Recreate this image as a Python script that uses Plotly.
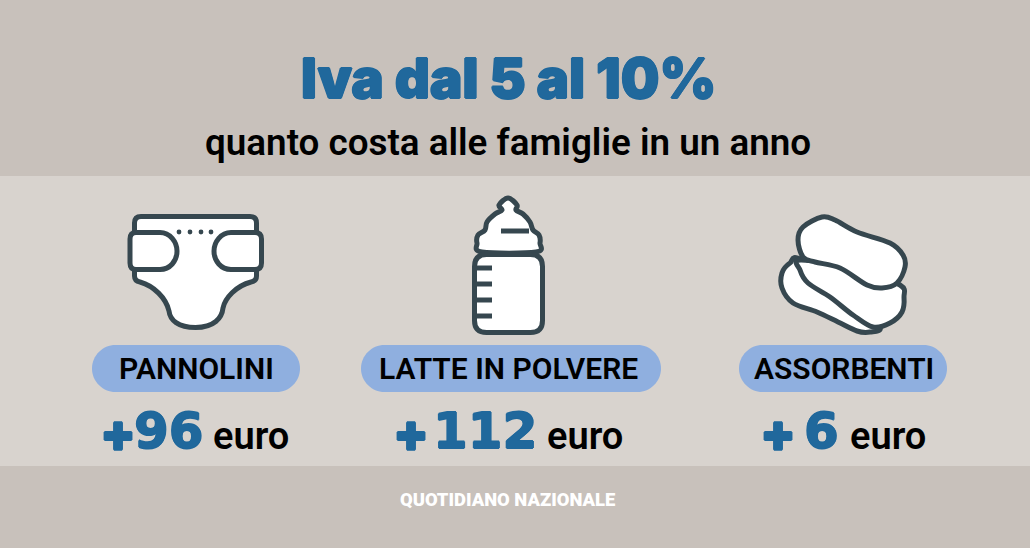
"""
Iva dal 5 al 10% - infographic rebuilt with plotly shapes and annotations.
"""
import plotly.graph_objects as go

WIDTH, HEIGHT = 1030, 548

title = "Iva dal 5 al 10%"
subtitle = "quanto costa alle famiglie in un anno"
categories = ["PANNOLINI", "LATTE IN POLVERE", "ASSORBENTI"]
increases = [96, 112, 6]
unit = "euro"
footer = "QUOTIDIANO NAZIONALE"

BAND = "#c8c1bb"
PANEL = "#d8d3ce"
BLUE = "#20689c"
PILL = "#8fafdf"
INK = "#36474f"

# text shadow just fattens the heavy blue type a bit
FATTEN = f"0.8px 0 0 {BLUE}, -0.8px 0 0 {BLUE}, 0 0.6px 0 {BLUE}, 0 -0.6px 0 {BLUE}"


def smooth(points):
    # closed catmull-rom through the outline points of an icon
    n = len(points)
    path = f"M {points[0][0]},{points[0][1]}"
    for i in range(n):
        p0, p1, p2, p3 = [points[(i + k) % n] for k in (-1, 0, 1, 2)]
        c1 = (p1[0] + (p2[0] - p0[0]) / 6, p1[1] + (p2[1] - p0[1]) / 6)
        c2 = (p2[0] - (p3[0] - p1[0]) / 6, p2[1] - (p3[1] - p1[1]) / 6)
        path += f" C {c1[0]:.1f},{c1[1]:.1f} {c2[0]:.1f},{c2[1]:.1f} {p2[0]},{p2[1]}"
    return path + " Z"


def rect(x0, y0, x1, y1, color):
    return dict(type="rect", x0=x0, y0=y0, x1=x1, y1=y1, fillcolor=color, line_width=0, layer="below")


def icon(path, fill="white", width=5):
    return dict(type="path", path=path, fillcolor=fill, line=dict(color=INK, width=width), layer="above")


def pill(x0, x1, y0=345, y1=392):
    # plotly shape paths do not scale arcs well, so the ends are cubic
    r = (y1 - y0) / 2
    k = r * 0.55
    ym = (y0 + y1) / 2
    return dict(
        type="path",
        path=(f"M {x0 + r},{y0} L {x1 - r},{y0} "
              f"C {x1 - r + k},{y0} {x1},{ym - k} {x1},{ym} C {x1},{ym + k} {x1 - r + k},{y1} {x1 - r},{y1} "
              f"L {x0 + r},{y1} "
              f"C {x0 + r - k},{y1} {x0},{ym + k} {x0},{ym} C {x0},{ym - k} {x0 + r - k},{y0} {x0 + r},{y0} Z"),
        fillcolor=PILL, line_width=0, layer="below",
    )


def text(x, y, s, size, color="black", family="Roboto", weight=600, anchor="center", shadow=None):
    font = dict(family=family, size=size, color=color, weight=weight)
    if shadow:
        font["shadow"] = shadow
    return dict(x=x, y=y, text=s, showarrow=False, xanchor=anchor, yanchor="middle", font=font)


shapes = [
    rect(0, 0, WIDTH, 176, BAND),
    rect(0, 176, WIDTH, 466, PANEL),
    rect(0, 466, WIDTH, HEIGHT, BAND),
    pill(92, 300),
    pill(361, 661),
    pill(739, 947),
]

# diaper
shapes.append(icon(
    "M 134.5,225 L 134.5,223 Q 134.5,216.5 141,216.5 L 250,216.5 Q 256.5,216.5 256.5,223 L 256.5,276 "
    "Q 256.5,281 251,282 C 236,286 225,298 223,308 C 222,318 214,327.5 195.5,327.5 "
    "C 178,327.5 170,320 169,311 C 166,298 154,286 140,282 Q 134.5,281 134.5,276 Z"))
shapes.append(icon("M 136,232.5 L 160,232.5 C 170,232.5 177,242 177,251 C 177,261 170,269.5 160,269.5 "
                   "L 136,269.5 Q 130,269.5 130,263 L 130,239 Q 130,232.5 136,232.5 Z"))
shapes.append(icon("M 255,232.5 L 231,232.5 C 221,232.5 214,242 214,251 C 214,261 221,269.5 231,269.5 "
                   "L 255,269.5 Q 261.5,269.5 261.5,263 L 261.5,239 Q 261.5,232.5 255,232.5 Z"))
for dot_x in (179, 190, 201, 211):
    shapes.append(dict(type="circle", x0=dot_x - 2.4, x1=dot_x + 2.4, y0=229.6, y1=234.4,
                       fillcolor=INK, line_width=0, layer="above"))

# bottle
shapes.append(icon(smooth([(482, 252), (477, 243), (478, 235), (485, 230), (487, 222), (495, 214),
                           (502, 210), (499, 205), (508, 198), (517, 205), (516, 210), (523, 214),
                           (530, 222), (533, 230), (539, 235), (540, 243), (536, 252)])))
shapes.append(icon("M 486.5,254.5 L 530.5,254.5 Q 542.5,254.5 542.5,266.5 L 542.5,320.5 Q 542.5,332.5 530.5,332.5 "
                   "L 486.5,332.5 Q 474.5,332.5 474.5,320.5 L 474.5,266.5 Q 474.5,254.5 486.5,254.5 Z"))
shapes.append(dict(type="line", x0=501, x1=529, y0=231, y1=231, line=dict(color=INK, width=5), layer="above"))
for tick_y in (268, 284, 300, 316):
    shapes.append(dict(type="line", x0=474, x1=492, y0=tick_y, y1=tick_y,
                       line=dict(color=INK, width=5), layer="above"))

# pads, back to front
shapes.append(icon(smooth([(802, 260), (790, 263), (782, 273), (782, 288), (793, 303), (817, 312),
                           (838, 322), (857, 331), (870, 332), (880, 327), (860, 300)])))
shapes.append(icon(smooth([(801, 260), (800, 270), (808, 283), (830, 297), (853, 315), (873, 327),
                           (890, 323), (902, 312), (904, 297), (900, 285), (860, 270)])))
shapes.append(icon(smooth([(798, 240), (803, 227), (822, 217), (835, 220), (857, 232), (890, 243),
                           (903, 255), (905, 267), (897, 283), (882, 288), (867, 285), (840, 268),
                           (815, 262), (803, 257)])))

annotations = [
    text(508, 78, title, 54.5, BLUE, "Inter", 900, shadow=FATTEN),
    text(508, 142, subtitle, 36.8),
    text(508, 499, footer, 18.4, "white", "Roboto", 900),
]
pill_centers = [196, 508, 843.5]
plus_x = [98, 391, 758]
value_x = [206, 539, 841]
euro_x = [211, 545, 848]
for name, cx, inc, px_, vx, ex in zip(categories, pill_centers, increases, plus_x, value_x, euro_x):
    annotations.append(text(cx, 368, name, 30))
    annotations.append(text(px_, 432, "+", 52, BLUE, "Inter", 900, "left", FATTEN))
    annotations.append(text(vx, 431, str(inc), 50, BLUE, "DejaVu Sans", 700, "right", FATTEN))
    annotations.append(text(ex, 436, unit, 38, anchor="left"))

fig = go.Figure()
fig.update_layout(
    width=WIDTH, height=HEIGHT,
    margin=dict(l=0, r=0, t=0, b=0),
    paper_bgcolor=PANEL, plot_bgcolor=PANEL,
    showlegend=False,
    shapes=shapes, annotations=annotations,
    xaxis=dict(range=[0, WIDTH], visible=False, fixedrange=True),
    yaxis=dict(range=[HEIGHT, 0], visible=False, fixedrange=True),
)
fig.write_html("out.html", config={"displayModeBar": False},
               post_script="document.body.style.margin='0';document.body.style.overflow='hidden';")
